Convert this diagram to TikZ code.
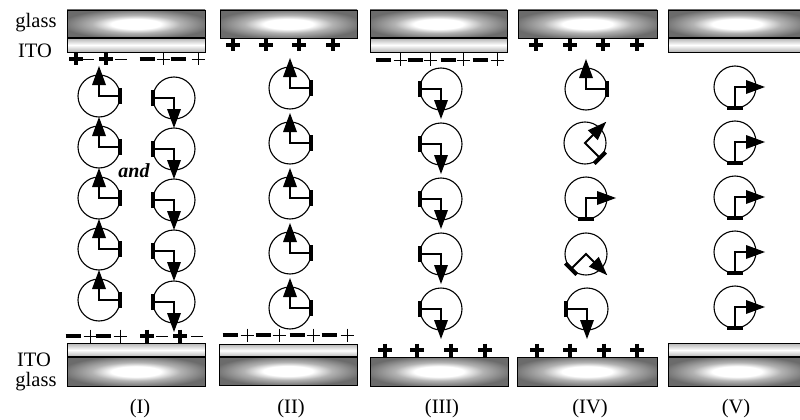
\documentclass[tikz,border=0pt]{standalone}
\usepackage{fontspec}
\setmainfont{Liberation Serif}
\definecolor{glassgray}{gray}{0.42}
\definecolor{itogray}{gray}{0.70}
\pgfdeclareradialshading{glassglow}{\pgfpoint{0bp}{0bp}}{%
  color(0bp)=(white); color(9bp)=(white); color(16bp)=(gray!60!white); color(27bp)=(glassgray); color(100bp)=(glassgray)}
\begin{document}
\begin{tikzpicture}[x=1pt,y=-1pt,
  glass/.style={shade, shading=glassglow, draw=black, line width=0.9pt},
  ito/.style={top color=itogray, bottom color=itogray, middle color=white, draw=black, line width=0.9pt},
  seam/.style={line width=1.6pt},
  ring/.style={line width=1.1pt},
  arm/.style={line width=2.1pt},
  anchorbar/.style={line width=4pt},
  lbl/.style={font=\fontsize{20.5}{24}\selectfont, inner sep=0pt},
  lc/.pic={
    \draw[ring] (0,0) circle (21pt);
    \draw[arm] (21,0) -- (0,0) -- (0,-13);
    \draw[anchorbar] (21,-8) -- (21,8);
    \fill (0,-30) -- (-7,-11) -- (7,-11) -- cycle;
  },
  bplus/.pic={\draw[line width=3.1pt] (-7,0) -- (7,0) (0,-6.5) -- (0,6.5);},
  tplus/.pic={\draw[line width=0.9pt] (-6.5,0) -- (6.5,0) (0,-6.5) -- (0,6.5);},
  bminus/.pic={\draw[line width=3.2pt] (-7.5,0) -- (7.5,0);},
  tminus/.pic={\draw[line width=0.9pt] (-6,0) -- (6,0);}
]
\useasboundingbox (0,0) rectangle (800,420);
\clip (0,0) rectangle (800,420);

% ---- upper plates ----
\path[glass] (67,10) rectangle (205,38);
\path[ito] (67,38) rectangle (205,52);
\draw[seam] (67,38) -- (205,38);
\path[glass] (220,10) rectangle (357,38);
\path[glass] (370,10) rectangle (507,38);
\path[ito] (370,38) rectangle (507,52);
\draw[seam] (370,38) -- (507,38);
\path[glass] (518,10) rectangle (657,38);
\path[glass] (668,10) rectangle (806,38);
\path[ito] (668,38) rectangle (806,52);
\draw[seam] (668,38) -- (806,38);

% ---- lower plates ----
\path[ito] (67,343) rectangle (205,357);
\path[glass] (67,357) rectangle (205,386);
\draw[seam] (67,357) -- (205,357);
\path[ito] (219,344) rectangle (357,357);
\path[glass] (219,357) rectangle (357,385);
\draw[seam] (219,357) -- (357,357);
\path[glass] (370,357) rectangle (508,386);
\path[glass] (517,357) rectangle (657,386);
\path[ito] (668,343) rectangle (806,357);
\path[glass] (668,357) rectangle (806,386);
\draw[seam] (668,357) -- (806,357);

% ---- side labels ----
\node[lbl, anchor=base] (glassT) at (36,28) {glass};
\node[lbl, anchor=base] (itoT) at (35,57) {ITO};
\node[lbl, anchor=base] (itoB) at (34,366) {ITO};
\node[lbl, anchor=base] (glassB) at (36,386) {glass};

% ---- column labels ----
\node[lbl, anchor=base] (colI) at (140,413) {(I)};
\node[lbl, anchor=base] (colII) at (291,413) {(II)};
\node[lbl, anchor=base] (colIII) at (442,413) {(III)};
\node[lbl, anchor=base] (colIV) at (590,413) {(IV)};
\node[lbl, anchor=base] (colV) at (736,413) {(V)};

% ---- surface charges ----
% (I)
\pic at (76,59) {bplus};  \pic at (88,59) {tminus};
\pic at (106,59) {bplus}; \pic at (121,59) {tminus};
\pic at (147,59) {bminus}; \pic at (163,59) {tplus};
\pic at (178,59) {bminus}; \pic at (198,59) {tplus};
\pic at (73,336) {bminus}; \pic at (90,336) {tplus};
\pic at (103,336) {bminus}; \pic at (120,336) {tplus};
\pic at (147,336) {bplus}; \pic at (162,336) {tminus};
\pic at (180,336) {bplus}; \pic at (197,336) {tminus};
% (II)
\foreach \x in {233,266,299,333} \pic at (\x,45) {bplus};
\foreach \x in {230,263,297,329} \pic at (\x,335) {bminus};
\foreach \x in {247,279,313,347} \pic at (\x,335) {tplus};
% (III)
\foreach \x in {383,415,448,480} \pic at (\x,60) {bminus};
\foreach \x in {400,430,463,497} \pic at (\x,60) {tplus};
\foreach \x in {385,417,451,485} \pic at (\x,350) {bplus};
% (IV)
\foreach \x in {536,570,603,637} \pic at (\x,45) {bplus};
\foreach \x in {537,570,604,637} \pic at (\x,350) {bplus};

% ---- molecules ----
% (I): two coexisting states
\foreach \y in {96,147,198,249,300} \pic at (99,\y) {lc};
\foreach \y in {98,149,200,251,302} \pic[rotate=180] at (174,\y) {lc};
\node[font=\fontsize{20}{24}\selectfont\bfseries\itshape, inner sep=0pt] (andtxt) at (134,171) {and};
% (II)
\foreach \y in {88,143,198,253,308} \pic at (290,\y) {lc};
% (III)
\foreach \y in {89,144,199,254,309} \pic[rotate=180] at (441,\y) {lc};
% (IV): twisted from top to bottom
\pic at (586,89) {lc};
\pic[rotate=-45] at (585,143) {lc};
\pic[rotate=-90] at (586,198) {lc};
\pic[rotate=-135] at (586,254) {lc};
\pic[rotate=-180] at (587,309) {lc};
% (V)
\foreach \y in {87,142,197,252,307} \pic[rotate=-90] at (735,\y) {lc};
\end{tikzpicture}
\end{document}
